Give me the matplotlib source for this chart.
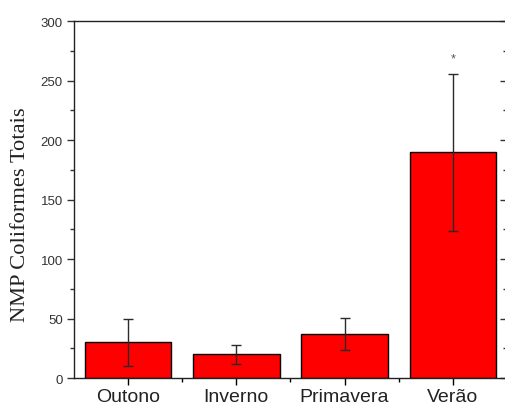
import matplotlib.pyplot as plt
from matplotlib.ticker import MultipleLocator, FixedLocator

# season means and error bar half-widths
seasons = ['Outono', 'Inverno', 'Primavera', 'Verão']
means = [30, 20, 37, 190]
errors = [19.5, 8, 13.5, 66]
marked = [False, False, False, True]
star_y = 269

fig = plt.figure(figsize=(5.06, 4.10), dpi=100)
ax = fig.add_axes([0.146, 0.0756, 0.856, 0.870])

x = list(range(len(seasons)))
ax.bar(x, means, width=0.8, color='#ff0000', edgecolor='black', linewidth=1.0, zorder=2)
ax.errorbar(x, means, yerr=errors, fmt='none', ecolor='#2a2a2a',
            elinewidth=1.0, capsize=3.5, capthick=1.0, zorder=3)
for xi, m in zip(x, marked):
    if m:
        ax.text(xi, star_y, '*', ha='center', va='center', fontsize=9,
                color='#555555', family='Liberation Sans')

ax.set_xlim(-0.5, 3.5)
ax.set_ylim(0, 300)

ax.set_xticks(x)
ax.set_xticklabels(seasons, family='Liberation Sans', fontsize=14, color='#222222')
ax.xaxis.set_minor_locator(FixedLocator([0.5, 1.5, 2.5]))
ax.yaxis.set_major_locator(MultipleLocator(50))
ax.yaxis.set_minor_locator(MultipleLocator(25))

for lbl in ax.get_yticklabels():
    lbl.set_family('Liberation Sans')
    lbl.set_fontsize(9.5)
    lbl.set_color('#444444')

ax.tick_params(axis='y', which='major', direction='out', length=5, width=1, pad=3,
               colors='#333333')
ax.tick_params(axis='y', which='minor', direction='out', length=3, width=1,
               colors='#333333')
ax.tick_params(axis='x', which='major', direction='out', length=5, width=1, pad=2)
ax.tick_params(axis='x', which='minor', direction='out', length=3, width=1)

# mirror ticks on the right, pointing inward
ax2 = ax.secondary_yaxis('right')
ax2.yaxis.set_major_locator(MultipleLocator(50))
ax2.yaxis.set_minor_locator(MultipleLocator(25))
ax2.tick_params(which='major', direction='in', length=5, width=1, labelright=False,
                colors='#333333')
ax2.tick_params(which='minor', direction='in', length=3, width=1, colors='#333333')
ax2.spines['right'].set_visible(False)

for s in ax.spines.values():
    s.set_linewidth(1.0)
    s.set_color('#222222')

ax.set_ylabel('NMP Coliformes Totais', family='Liberation Serif', fontsize=16.2,
              color='#222222')
ax.yaxis.set_label_coords(-0.102, 0.461)

fig.savefig('out.png', dpi=100)
